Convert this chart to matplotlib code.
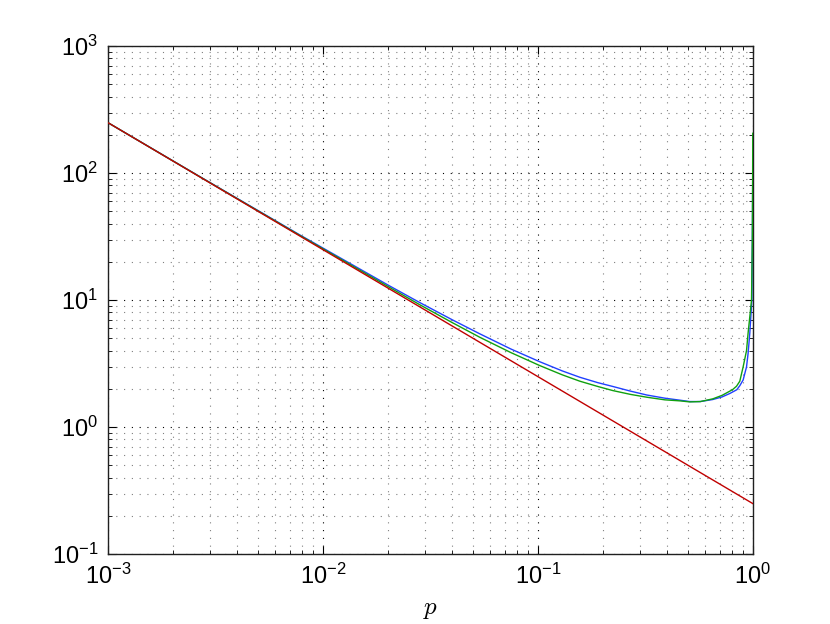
import math
import matplotlib
matplotlib.use("Agg")
import matplotlib.pyplot as plt
from matplotlib.ticker import LogLocator, FuncFormatter, NullFormatter

# values (p, y)
red_p = [1e-3, 1.0]
red_y = [250.0, 0.25]

blue_p = [0.001, 0.00268, 0.00782, 0.0205, 0.0283, 0.04, 0.0537, 0.075, 0.1022,
          0.13, 0.1568, 0.19, 0.2233, 0.27, 0.3214, 0.39, 0.4576, 0.509, 0.57,
          0.6516, 0.72, 0.7816, 0.8424, 0.87, 0.9015, 0.9348, 0.9507, 0.9683,
          0.99, 0.993, 0.997, 0.9995]
blue_y = [250.0, 93.8, 32.6, 12.9, 9.55, 7.0, 5.43, 4.12, 3.27,
          2.77, 2.47, 2.24, 2.09, 1.92, 1.79, 1.69, 1.63, 1.59, 1.59,
          1.65, 1.73, 1.84, 1.97, 2.12, 2.35, 2.98, 3.8, 5.5,
          10.0, 20.0, 50.0, 120.0]

green_p = [0.001, 0.00268, 0.00782, 0.0205, 0.0283, 0.04, 0.0537, 0.075, 0.1022,
           0.13, 0.1568, 0.19, 0.2233, 0.27, 0.3214, 0.39, 0.4576, 0.509, 0.57,
           0.6516, 0.72, 0.7816, 0.807, 0.84, 0.87, 0.9015, 0.9348, 0.9507,
           0.9864, 0.995, 0.998, 0.9995]
green_y = [250.0, 93.6, 32.3, 12.55, 9.18, 6.65, 5.1, 3.86, 3.05,
           2.58, 2.30, 2.09, 1.94, 1.81, 1.72, 1.64, 1.61, 1.58, 1.59,
           1.67, 1.78, 1.92, 1.98, 2.1, 2.3, 2.98, 4.0, 5.5,
           10.0, 30.0, 80.0, 206.0]

plt.rcParams['font.family'] = ['Liberation Sans', 'DejaVu Sans']
plt.rcParams['mathtext.fontset'] = 'cm'

fig = plt.figure(figsize=(8.3, 6.24), dpi=100)
ax = fig.add_axes([0.13, 0.112, 0.777, 0.814])

ax.plot(blue_p, blue_y, color='#2040ff', lw=1.0, zorder=3)
ax.plot(green_p, green_y, color='#10a010', lw=1.0, zorder=4)
ax.plot(red_p, red_y, color='#c00000', lw=1.0, zorder=5)

ax.set_xscale('log')
ax.set_yscale('log')
ax.set_xlim(1e-3, 1)
ax.set_ylim(1e-1, 1e3)

ax.xaxis.set_major_locator(LogLocator(base=10, numticks=10))
ax.yaxis.set_major_locator(LogLocator(base=10, numticks=10))
ax.xaxis.set_minor_locator(LogLocator(base=10, subs=range(2, 10), numticks=20))
ax.yaxis.set_minor_locator(LogLocator(base=10, subs=range(2, 10), numticks=20))

def fmt(v, pos):
    e = int(round(math.log10(v)))
    return r'$\mathregular{10^{%d}}$' % e

ax.xaxis.set_major_formatter(FuncFormatter(fmt))
ax.yaxis.set_major_formatter(FuncFormatter(fmt))
ax.xaxis.set_minor_formatter(NullFormatter())
ax.yaxis.set_minor_formatter(NullFormatter())

ax.tick_params(which='both', direction='in', top=True, right=True, labelsize=17)
ax.tick_params(which='major', length=6, pad=7)
ax.tick_params(which='minor', length=3)

ax.grid(True, which='major', linestyle=(0, (1, 6)), color='k', lw=0.8)
ax.grid(True, which='minor', linestyle=(0, (1, 6)), color='0.5', lw=0.8)

for s in ax.spines.values():
    s.set_color('#202020')
    s.set_linewidth(1.0)

ax.set_xlabel('$p$', fontsize=18, labelpad=6)

fig.savefig('out.png', dpi=100)
